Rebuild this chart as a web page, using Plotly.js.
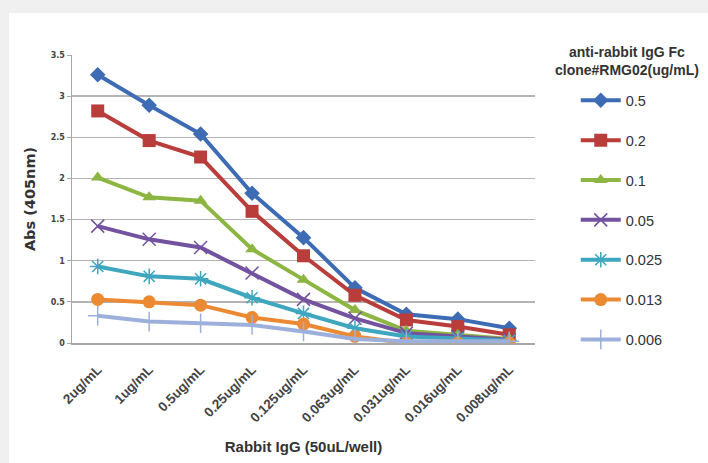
<!DOCTYPE html>
<html><head><meta charset="utf-8">
<script src="https://cdn.plot.ly/plotly-3.0.1.min.js"></script>
<style>
html,body{margin:0;padding:0;background:#f0f0f0;width:708px;height:463px;overflow:hidden}
#chart{position:absolute;left:9px;top:13px;width:699px;height:450px;background:#fff}
</style></head>
<body><div id="chart"></div>
<script>
const categories = ["2ug/mL","1ug/mL","0.5ug/mL","0.25ug/mL","0.125ug/mL","0.063ug/mL","0.031ug/mL","0.016ug/mL","0.008ug/mL"];
const seriesNames = ["0.5","0.2","0.1","0.05","0.025","0.013","0.006"];
const s05   = [3.26, 2.89, 2.54, 1.82, 1.28, 0.67, 0.35, 0.29, 0.18];
const s02   = [2.82, 2.46, 2.26, 1.60, 1.06, 0.58, 0.28, 0.20, 0.10];
const s01   = [2.01, 1.77, 1.73, 1.14, 0.77, 0.40, 0.15, 0.10, 0.05];
const s005  = [1.42, 1.26, 1.16, 0.85, 0.53, 0.30, 0.12, 0.08, 0.04];
const s0025 = [0.93, 0.81, 0.78, 0.55, 0.36, 0.18, 0.08, 0.06, 0.03];
const s0013 = [0.53, 0.50, 0.46, 0.31, 0.23, 0.08, 0.00, 0.00, 0.00];
const s0006 = [0.33, 0.26, 0.24, 0.22, 0.14, 0.05, 0.02, 0.02, 0.02];
const yTicks = [0, 0.5, 1, 1.5, 2, 2.5, 3, 3.5];
const yTickText = ["0","0.5","1","1.5","2","2.5","3","3.5"];

const values = [s05, s02, s01, s005, s0025, s0013, s0006];
const colors = ["#3E6CB4","#B83D3B","#8CB542","#7352A0","#3EA6BE","#EC8A34","#9DB0DC"];
const symbols = ["diamond","square","triangle-up","x-thin-open","asterisk-open","circle","cross-thin-open"];
const sizes = [12, 13, 12, 13, 13, 13, 14];

const traces = values.map((v, i) => ({
  type: "scatter", mode: "lines+markers",
  x: categories, y: v, name: seriesNames[i],
  legendgroup: "g" + i,
  line: {color: colors[i], width: 4},
  marker: {symbol: symbols[i], size: sizes[i], color: colors[i],
           line: {color: colors[i], width: (symbols[i].indexOf("open") >= 0) ? 1.5 : 0}}
}));

const layout = {
  width: 699, height: 450,
  margin: {l: 63, r: 173, t: 42, b: 120},
  paper_bgcolor: "#ffffff", plot_bgcolor: "#ffffff",
  font: {family: "Liberation Sans, Arial, sans-serif", color: "#333"},
  showlegend: true,
  legend: {x: 1.088, xanchor: "left", y: 0.898, yanchor: "top",
           xref: "paper", yref: "paper",
           font: {size: 14.5, color: "#333", family: "Liberation Sans, Arial, sans-serif"},
           traceorder: "grouped", tracegroupgap: 18, itemwidth: 40,
           bgcolor: "rgba(0,0,0,0)"},
  xaxis: {
    type: "category", range: [-0.5, 8.5],
    tickangle: -45, tickfont: {size: 13.5, color: "#444", family: "Liberation Sans, Arial, sans-serif", weight: "bold"},
    showgrid: false, showline: true, linecolor: "#a8a8a8", linewidth: 1.5,
    ticks: "outside", ticklen: 12, tickcolor: "rgba(0,0,0,0)", zeroline: false, fixedrange: true,
    title: {text: "<b>Rabbit IgG (50uL/well)</b>", font: {size: 15, color: "#333"}, standoff: 17}
  },
  yaxis: {
    range: [0, 3.5], tickvals: yTicks, ticktext: yTickText,
    tickfont: {size: 8, color: "#444", family: "DejaVu Sans, sans-serif", weight: "bold"},
    showgrid: true, gridcolor: "#b4b4b4", gridwidth: 1.5,
    showline: true, linecolor: "#a8a8a8", linewidth: 1.5,
    ticks: "outside", ticklen: 4, tickcolor: "#a8a8a8", zeroline: false,
    title: {text: "<b>Abs (405nm)</b>", font: {size: 14.5, color: "#333", family: "DejaVu Sans, sans-serif"}, standoff: 11}
  },
  annotations: [{
    xref: "paper", yref: "paper", x: 1.199, y: 1.045, xanchor: "center", yanchor: "top",
    text: "<b>anti-rabbit IgG Fc<br>clone#RMG02(ug/mL)</b>", showarrow: false,
    font: {size: 14, color: "#333", family: "Liberation Sans, Arial, sans-serif"}, align: "center"
  }]
};
Plotly.newPlot("chart", traces, layout, {displayModeBar: false, staticPlot: true});
</script></body></html>
